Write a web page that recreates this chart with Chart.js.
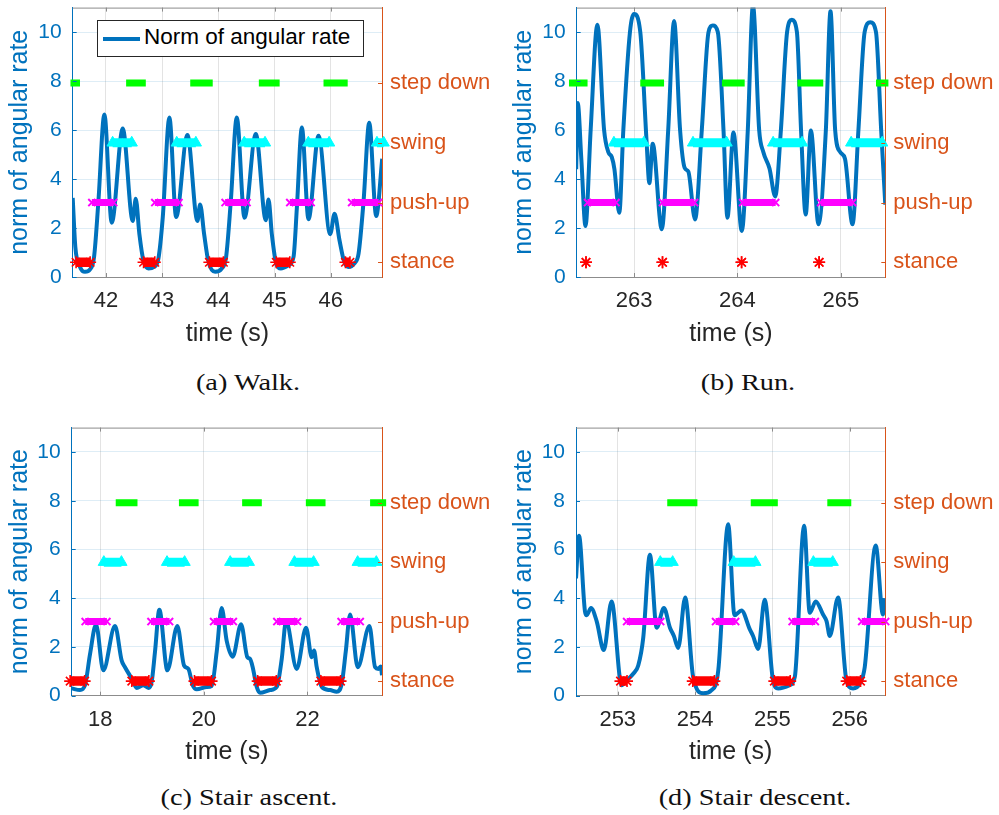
<!DOCTYPE html>
<html>
<head>
<meta charset="utf-8">
<script src="https://cdn.jsdelivr.net/npm/chart.js@4.4.0/dist/chart.umd.min.js"></script>
<style>
  body { margin: 0; background: #fff; width: 999px; height: 815px; position: relative; overflow: hidden; font-family: "Liberation Sans", Arial, sans-serif; }
  .panel { position: absolute; }
  .cap { position: absolute; font-family: "Liberation Serif", serif; font-size: 24px; color: #111; white-space: nowrap; transform: translate(-50%, -50%) scaleX(1.18); }
  .legend { position: absolute; left: 97px; top: 20px; width: 265px; height: 35px; border: 1px solid #262626; background: #fff; }
  .legend .ln { position: absolute; left: 5px; top: 16px; width: 37px; height: 4px; background: #0072BD; }
  .legend .tx { position: absolute; left: 46px; top: 3px; font-size: 22.5px; color: #000; }
</style>
</head>
<body>
<div class="panel" style="left:0;top:0"><canvas id="walk" width="500" height="350"></canvas></div>
<div class="panel" style="left:504px;top:0"><canvas id="run" width="495" height="350"></canvas></div>
<div class="panel" style="left:0;top:420px"><canvas id="ascent" width="500" height="350"></canvas></div>
<div class="panel" style="left:504px;top:420px"><canvas id="descent" width="495" height="350"></canvas></div>
<div class="legend"><div class="ln"></div><div class="tx">Norm of angular rate</div></div>
<div class="cap" style="left:248px;top:382px">(a) Walk.</div>
<div class="cap" style="left:748px;top:382px">(b) Run.</div>
<div class="cap" style="left:249px;top:797px">(c) Stair ascent.</div>
<div class="cap" style="left:755px;top:797px">(d) Stair descent.</div>
<script>
// ---- shared axis data ----
const rateTicks = [0, 2, 4, 6, 8, 10];
const phaseLabels = ['stance', 'push-up', 'swing', 'step down'];
const phaseLevels = [0.6, 3.04, 5.48, 7.92];

// ---- (a) walk ----
const walkTime = [41.41, 41.457, 41.54, 41.629, 41.718, 41.79, 41.867, 41.973, 42.104, 42.3, 42.478, 42.531, 42.596, 42.667, 42.756, 42.857, 42.934, 43.011, 43.13, 43.249, 43.45, 43.628, 43.676, 43.747, 43.824, 43.943, 44.061, 44.138, 44.221, 44.328, 44.465, 44.666, 44.844, 44.892, 44.951, 45.028, 45.111, 45.248, 45.337, 45.396, 45.485, 45.603, 45.781, 45.989, 46.066, 46.155, 46.238, 46.315, 46.416, 46.493, 46.582, 46.683, 46.807, 46.914];
const walkRate = [3.23, 1.22, 0.41, 0.21, 0.31, 0.82, 3.09, 6.64, 2.22, 6.06, 2.29, 3.2, 1.75, 0.68, 0.35, 0.41, 0.75, 2.42, 6.51, 2.45, 5.8, 2.29, 2.96, 1.75, 0.62, 0.21, 0.35, 0.82, 3.09, 6.51, 2.42, 5.84, 2.32, 3.16, 1.75, 0.55, 0.35, 0.48, 0.82, 2.82, 6.1, 2.36, 5.77, 1.75, 2.58, 1.49, 0.62, 0.41, 0.55, 0.95, 3.09, 6.3, 2.49, 4.83];
const walkStepDown = [[41.37, 41.54], [42.36, 42.71], [43.5, 43.9], [44.72, 45.09], [45.87, 46.3]];
const walkSwing = [[42.12, 42.46], [43.26, 43.6], [44.46, 44.83], [45.6, 45.97], [46.82, 46.94]];
const walkPushUp = [[41.75, 42.14], [42.87, 43.3], [44.12, 44.51], [45.27, 45.65], [46.37, 46.85]];
const walkStance = [[41.47, 41.72], [42.67, 42.87], [43.84, 44.09], [45.03, 45.27], [46.26, 46.34]];
const walkTicks = [42, 43, 44, 45, 46];

// ---- (b) run ----
const runTime = [262.44, 262.455, 262.49, 262.53, 262.58, 262.645, 262.71, 262.751, 262.784, 262.81, 262.857, 262.896, 262.96, 263.0, 263.06, 263.12, 263.148, 263.18, 263.268, 263.33, 263.387, 263.445, 263.49, 263.525, 263.59, 263.655, 263.72, 263.762, 263.81, 263.865, 263.903, 263.961, 264.042, 264.1, 264.15, 264.21, 264.25, 264.31, 264.365, 264.42, 264.48, 264.526, 264.575, 264.615, 264.66, 264.71, 264.784, 264.855, 264.9, 264.945, 264.994, 265.04, 265.113, 265.17, 265.23, 265.285, 265.34, 265.39, 265.43];
const runRate = [4.4, 7.1, 4.8, 2.08, 6.0, 10.3, 6.0, 5.1, 4.9, 4.4, 2.62, 6.0, 10.0, 10.74, 10.0, 5.6, 3.83, 5.44, 1.95, 6.0, 10.45, 6.0, 4.45, 4.3, 2.35, 6.0, 10.0, 10.27, 10.0, 6.0, 2.42, 5.9, 1.88, 6.0, 11.1, 6.0, 5.1, 4.43, 3.29, 6.0, 10.0, 10.5, 10.0, 6.0, 2.55, 5.98, 2.15, 6.0, 10.85, 6.0, 5.1, 4.83, 2.15, 6.0, 10.0, 10.4, 10.0, 6.0, 2.95];
const runStepDown = [[262.37, 262.55], [263.06, 263.29], [263.85, 264.07], [264.58, 264.83], [265.34, 265.46]];
const runSwing = [[262.805, 263.095], [263.57, 263.895], [264.345, 264.625], [265.1, 265.4]];
const runPushUp = [[262.55, 262.825], [263.275, 263.585], [264.05, 264.37], [264.805, 265.115]];
const runStance = [[262.535, 262.535], [263.275, 263.275], [264.04, 264.04], [264.79, 264.79]];
const runTicks = [263, 264, 265];

// ---- (c) stair ascent ----
const ascentTime = [17.45, 17.61, 17.707, 17.804, 17.92, 18.06, 18.286, 18.415, 18.479, 18.608, 18.705, 18.833, 18.93, 18.994, 19.058, 19.142, 19.297, 19.49, 19.619, 19.702, 19.786, 19.863, 20.056, 20.152, 20.249, 20.345, 20.442, 20.558, 20.719, 20.841, 20.893, 20.944, 21.022, 21.086, 21.279, 21.408, 21.504, 21.588, 21.794, 21.974, 22.084, 22.129, 22.18, 22.277, 22.438, 22.567, 22.663, 22.74, 22.824, 22.972, 23.197, 23.307, 23.371, 23.416, 23.44];
const ascentRate = [0.3, 0.23, 0.43, 1.71, 2.92, 1.04, 2.86, 1.44, 1.17, 0.7, 0.32, 0.43, 0.32, 0.57, 1.8, 3.53, 1.04, 2.86, 1.24, 1.1, 0.43, 0.26, 0.36, 0.4, 1.8, 3.6, 2.25, 1.6, 2.93, 1.58, 1.51, 1.17, 0.36, 0.12, 0.23, 0.36, 1.5, 3.06, 1.1, 2.79, 1.58, 1.85, 1.17, 0.36, 0.23, 0.16, 0.5, 1.8, 3.33, 1.17, 2.86, 1.17, 1.1, 1.2, 0.84];
const ascentStepDown = [[18.3, 18.72], [19.52, 19.9], [20.74, 21.12], [21.97, 22.35], [23.21, 23.52]];
const ascentSwing = [[18.07, 18.41], [19.29, 19.63], [20.51, 20.87], [21.75, 22.12], [22.97, 23.33]];
const ascentPushUp = [[17.71, 18.13], [18.98, 19.34], [20.19, 20.57], [21.41, 21.81], [22.65, 23.02]];
const ascentStance = [[17.42, 17.7], [18.61, 18.94], [19.82, 20.15], [21.04, 21.4], [22.26, 22.64]];
const ascentTicks = [18, 20, 22];

// ---- (d) stair descent ----
const descentTime = [252.46, 252.499, 252.576, 252.598, 252.654, 252.727, 252.82, 252.92, 253.05, 253.115, 253.2, 253.265, 253.33, 253.416, 253.503, 253.597, 253.675, 253.726, 253.782, 253.872, 253.975, 254.105, 254.213, 254.3, 254.428, 254.51, 254.6, 254.708, 254.75, 254.816, 254.9, 255.008, 255.074, 255.225, 255.29, 255.41, 255.483, 255.56, 255.655, 255.7, 255.742, 255.85, 255.957, 256.043, 256.13, 256.194, 256.336, 256.43, 256.452];
const descentRate = [4.81, 6.56, 3.46, 3.3, 3.6, 3.06, 1.87, 3.87, 0.43, 0.63, 0.9, 1.24, 2.39, 5.78, 2.79, 3.6, 2.79, 2.45, 1.96, 4.03, 0.77, 0.1, 0.23, 1.04, 7.03, 3.3, 3.5, 2.72, 2.45, 1.92, 3.94, 0.63, 0.3, 0.43, 0.77, 6.97, 3.4, 3.87, 3.33, 3.06, 2.45, 4.03, 0.63, 0.3, 0.5, 1.17, 6.16, 3.33, 4.0];
const descentStepDown = [[253.64, 254.03], [254.72, 255.07], [255.71, 256.02]];
const descentSwing = [[253.55, 253.71], [254.5, 254.78], [255.53, 255.78]];
const descentPushUp = [[253.115, 253.555], [254.265, 254.525], [255.255, 255.555], [256.155, 256.465]];
const descentStance = [[253.035, 253.12], [253.97, 254.25], [255.025, 255.23], [255.96, 256.14]];
const descentTicks = [253, 254, 255, 256];

Chart.defaults.font.family = "'Liberation Sans', Arial, sans-serif";

const BLUE = '#0072BD';
const ORANGE = '#D95319';
const AXIS_GRAY = '#8c8c8c';

// turn [start, end] intervals into broken line pieces
function segments(intervals, level) {
  const out = [];
  intervals.forEach(([a, b]) => {
    out.push({ x: a, y: level }, { x: b, y: level }, { x: b, y: null });
  });
  return out;
}

function fixBox(size) {
  return function (scale) {
    if (scale.isHorizontal()) scale.height = size;
    else scale.width = size;
    scale.paddingTop = 0;
    scale.paddingBottom = 0;
    scale.paddingLeft = 0;
    scale.paddingRight = 0;
  };
}

// top border + inward tick marks like the matlab box
const frame = {
  id: 'frame',
  afterDraw(chart) {
    const { ctx, chartArea: a, scales } = chart;
    ctx.save();
    ctx.lineWidth = 1;
    ctx.strokeStyle = AXIS_GRAY;
    ctx.beginPath();
    ctx.moveTo(a.left, a.top + 0.5);
    ctx.lineTo(a.right, a.top + 0.5);
    scales.x.ticks.forEach(t => {
      const px = Math.round(scales.x.getPixelForValue(t.value)) + 0.5;
      ctx.moveTo(px, a.bottom);
      ctx.lineTo(px, a.bottom - 4);
      ctx.moveTo(px, a.top);
      ctx.lineTo(px, a.top + 4);
    });
    ctx.stroke();
    ctx.strokeStyle = BLUE;
    ctx.beginPath();
    scales.y.ticks.forEach(t => {
      const py = Math.round(scales.y.getPixelForValue(t.value)) + 0.5;
      ctx.moveTo(a.left, py);
      ctx.lineTo(a.left + 4, py);
    });
    ctx.stroke();
    ctx.strokeStyle = ORANGE;
    ctx.beginPath();
    scales.y2.ticks.forEach(t => {
      const py = Math.round(scales.y2.getPixelForValue(t.value)) + 0.5;
      ctx.moveTo(a.right, py);
      ctx.lineTo(a.right - 4, py);
    });
    ctx.stroke();
    ctx.restore();
  }
};

function makePanel(id, time, rate, stance, pushUp, swing, stepDown, xTicks, box) {
  const curve = time.map((t, i) => ({ x: t, y: rate[i] }));
  return new Chart(document.getElementById(id), {
    type: 'line',
    data: {
      datasets: [
        {
          label: 'step down',
          data: segments(stepDown, phaseLevels[3]),
          borderColor: '#00FF00',
          borderWidth: 7,
          borderCapStyle: 'butt',
          pointRadius: 0,
          clip: 8,
          order: 0
        },
        {
          label: 'swing',
          data: segments(swing, phaseLevels[2]),
          borderColor: '#00FFFF',
          backgroundColor: '#00FFFF',
          borderWidth: 9,
          borderCapStyle: 'butt',
          pointStyle: 'triangle',
          pointRadius: 6.5,
          pointBorderWidth: 1,
          pointBorderColor: '#00FFFF',
          pointBackgroundColor: '#00FFFF',
          clip: 8,
          order: 0
        },
        {
          label: 'push-up',
          data: segments(pushUp, phaseLevels[1]),
          borderColor: '#FF00FF',
          borderWidth: 7,
          borderCapStyle: 'butt',
          pointStyle: 'crossRot',
          pointRadius: 5,
          pointBorderWidth: 2,
          pointBorderColor: '#FF00FF',
          clip: 8,
          order: 0
        },
        {
          label: 'stance',
          data: segments(stance, phaseLevels[0]),
          borderColor: '#FF0000',
          borderWidth: 9.5,
          borderCapStyle: 'butt',
          pointStyle: 'star',
          pointRadius: 6,
          pointBorderWidth: 1.6,
          pointBorderColor: '#FF0000',
          clip: 8,
          order: 0
        },
        {
          label: 'Norm of angular rate',
          data: curve,
          borderColor: BLUE,
          borderWidth: 4,
          pointRadius: 0,
          cubicInterpolationMode: 'monotone',
          order: 1
        }
      ]
    },
    options: {
      responsive: false,
      animation: false,
      events: [],
      layout: { padding: { top: 4 } },
      plugins: { legend: { display: false }, tooltip: { enabled: false } },
      scales: {
        x: {
          type: 'linear',
          position: 'bottom',
          min: box.xMin,
          max: box.xMax,
          afterBuildTicks: s => { s.ticks = xTicks.map(v => ({ value: v })); },
          afterFit: fixBox(box.xH),
          ticks: { color: '#262626', font: { size: 22 }, padding: 11, autoSkip: false, maxRotation: 0 },
          grid: { color: 'rgba(38,38,38,0.13)', drawTicks: false },
          border: { color: AXIS_GRAY, width: 1 },
          title: { display: true, text: 'time (s)', color: '#262626', font: { size: 25 }, padding: { top: 0, bottom: box.titlePad } }
        },
        y: {
          position: 'left',
          min: 0,
          max: 11,
          afterBuildTicks: s => { s.ticks = rateTicks.map(v => ({ value: v })); },
          afterFit: fixBox(box.yW),
          ticks: { color: BLUE, font: { size: 21 }, padding: 11 },
          grid: { color: 'rgba(0,114,189,0.13)', drawTicks: false },
          border: { color: BLUE, width: 1 },
          title: { display: true, text: 'norm of angular rate', color: BLUE, font: { size: 25 }, padding: { top: 5, bottom: 0 } }
        },
        y2: {
          position: 'right',
          min: 0,
          max: 11,
          afterBuildTicks: s => { s.ticks = phaseLevels.map(v => ({ value: v })); },
          afterFit: fixBox(box.y2W),
          ticks: { color: ORANGE, font: { size: 22 }, padding: 8, callback: (v, i) => phaseLabels[i] },
          grid: { drawOnChartArea: false, drawTicks: false },
          border: { color: ORANGE, width: 1 }
        }
      }
    },
    plugins: [frame]
  });
}

makePanel('walk', walkTime, walkRate, walkStance, walkPushUp, walkSwing, walkStepDown, walkTicks,
  { xMin: 41.41, xMax: 46.91, yW: 72.7, y2W: 118, xH: 73, titlePad: 1 });
makePanel('run', runTime, runRate, runStance, runPushUp, runSwing, runStepDown, runTicks,
  { xMin: 262.445, xMax: 265.43, yW: 72.7, y2W: 113.7, xH: 73, titlePad: 1 });
makePanel('ascent', ascentTime, ascentRate, ascentStance, ascentPushUp, ascentSwing, ascentStepDown, ascentTicks,
  { xMin: 17.45, xMax: 23.44, yW: 71.7, y2W: 118, xH: 74.3, titlePad: 3 });
makePanel('descent', descentTime, descentRate, descentStance, descentPushUp, descentSwing, descentStepDown, descentTicks,
  { xMin: 252.46, xMax: 256.46, yW: 72, y2W: 113.7, xH: 74.3, titlePad: 3 });
</script>
</body>
</html>
